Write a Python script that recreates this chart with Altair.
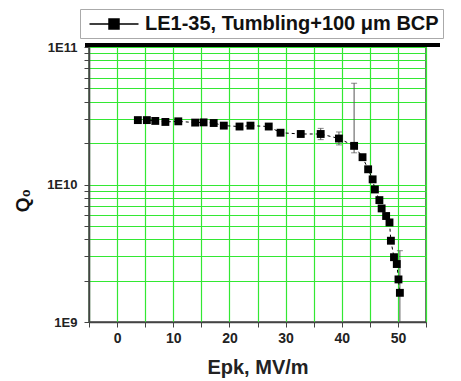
import altair as alt
import pandas as pd

# Data
epk = [3.7, 5.3, 6.8, 8.6, 10.9, 13.9, 15.4, 17.2, 19.0, 21.8, 23.75, 27.0, 29.1,
       32.7, 36.25, 39.5, 42.2, 43.7, 44.7, 45.5, 45.9, 46.7, 47.1, 47.9, 48.5,
       48.75, 49.3, 49.8, 50.1, 50.35]
q0 = [2.94e10, 2.94e10, 2.9e10, 2.85e10, 2.88e10, 2.82e10, 2.83e10, 2.8e10, 2.68e10,
      2.64e10, 2.68e10, 2.64e10, 2.38e10, 2.33e10, 2.33e10, 2.16e10, 1.91e10, 1.58e10,
      1.29e10, 1.09e10, 9.2e9, 7.7e9, 6.7e9, 5.9e9, 5.3e9, 3.9e9, 2.96e9, 2.64e9,
      2.04e9, 1.63e9]

err_x = [36.25, 39.5, 42.2, 50.35]
err_lo = [2.12e10, 1.94e10, 1.70e10, 5e8]
err_hi = [2.56e10, 2.41e10, 5.45e10, 3.3e9]

series_name = "LE1-35, Tumbling+100 \u03bcm BCP"

x_ticks = list(range(-5, 56, 5))
y_ticks = [k * 10.0 ** e for e in (9, 10) for k in range(1, 10)] + [1e11]

df = pd.DataFrame({"Epk": epk, "Q0": q0, "series": [series_name] * len(epk)})
edf = pd.DataFrame({"Epk": err_x, "lo": err_lo, "hi": err_hi})

FONT = "Liberation Sans"
GREEN = "#33e833"

xscale = alt.Scale(domain=[-5, 55], nice=False, zero=False)
yscale = alt.Scale(type="log", domain=[1e9, 1e11], nice=False)

xaxis = alt.Axis(
    values=x_ticks, tickCount=40,
    labelExpr="datum.value % 10 == 0 && datum.value >= 0 && datum.value <= 50 ? datum.label : ''",
    labelOverlap=False, labelFlush=False,
    title="Epk, MV/m",
    titleFont=FONT, titleFontSize=20, titleFontWeight="bold", titleColor="#222",
    titlePadding=12,
    labelFont=FONT, labelFontSize=14, labelFontWeight="bold", labelColor="#222",
    labelPadding=4, tickSize=5, tickColor="#444",
    grid=True, gridColor=GREEN, gridWidth=1.2,
    domainColor="#444", domainWidth=1.5,
)
yaxis = alt.Axis(
    values=y_ticks, tickCount=40,
    labelExpr="datum.value == 1e9 ? '1E9' : datum.value == 1e10 ? '1E10' : datum.value == 1e11 ? '1E11' : ''",
    labelOverlap=False, labelFlush=False,
    title="Q\u2080",
    titleFont=FONT, titleFontSize=19, titleFontWeight="bold", titleColor="#111",
    titleX=-67, titleY=153, titleAngle=270, titleAlign="center", titleBaseline="middle",
    labelFont=FONT, labelFontSize=13, labelFontWeight="bold", labelColor="#222",
    labelPadding=7, tickSize=5, tickColor="#444",
    grid=True, gridColor=GREEN, gridWidth=1.2,
    domainColor="#444", domainWidth=1.5,
)

base = alt.Chart(df)

line = base.mark_line(color="black", strokeWidth=1, strokeDash=[3, 3]).encode(
    x=alt.X("Epk:Q", scale=xscale, axis=xaxis),
    y=alt.Y("Q0:Q", scale=yscale, axis=yaxis),
)

err = alt.Chart(edf).mark_rule(color="#555", strokeWidth=1, clip=True).encode(
    x="Epk:Q", y="lo:Q", y2="hi:Q"
)
cap_hi = alt.Chart(edf).mark_tick(color="#555", orient="horizontal", size=6, thickness=1, clip=True).encode(
    x="Epk:Q", y="hi:Q"
)
cap_lo = alt.Chart(edf).mark_tick(color="#555", orient="horizontal", size=6, thickness=1, clip=True).encode(
    x="Epk:Q", y="lo:Q"
)

points = base.mark_point(shape="square", filled=True, size=62, opacity=1).encode(
    x="Epk:Q",
    y="Q0:Q",
    color=alt.Color(
        "series:N",
        scale=alt.Scale(range=["black"]),
        legend=alt.Legend(
            title=None, orient="none", legendX=-9, legendY=-38,
            symbolType="M-2.45,0H-0.5M0.5,0H2.45M-0.5,-0.5H0.5V0.5H-0.5Z",
            symbolSize=400, symbolStrokeWidth=1.5,
            symbolFillColor="black", symbolStrokeColor="black",
            symbolOffset=19,
            labelFont=FONT, labelFontSize=20, labelFontWeight="bold", labelColor="#111",
            labelLimit=0, labelOffset=20,
            padding=4, strokeColor="#aaa", fillColor="white",
        ),
    ),
)

bar = alt.Chart(pd.DataFrame({"a": [0]})).mark_rule(color="black", strokeWidth=4).encode(
    x=alt.value(-4), x2=alt.value(351), y=alt.value(-2)
)

chart = alt.layer(line, err, cap_hi, cap_lo, points, bar).properties(
    width=337, height=275,
    autosize=alt.AutoSizeParams(type="none"),
    padding={"left": 89, "top": 47, "right": 35, "bottom": 59},
    background="white",
).configure_view(stroke="#444", strokeWidth=1.5)

chart.save("out.html", embed_options={"renderer": "svg", "actions": False})
